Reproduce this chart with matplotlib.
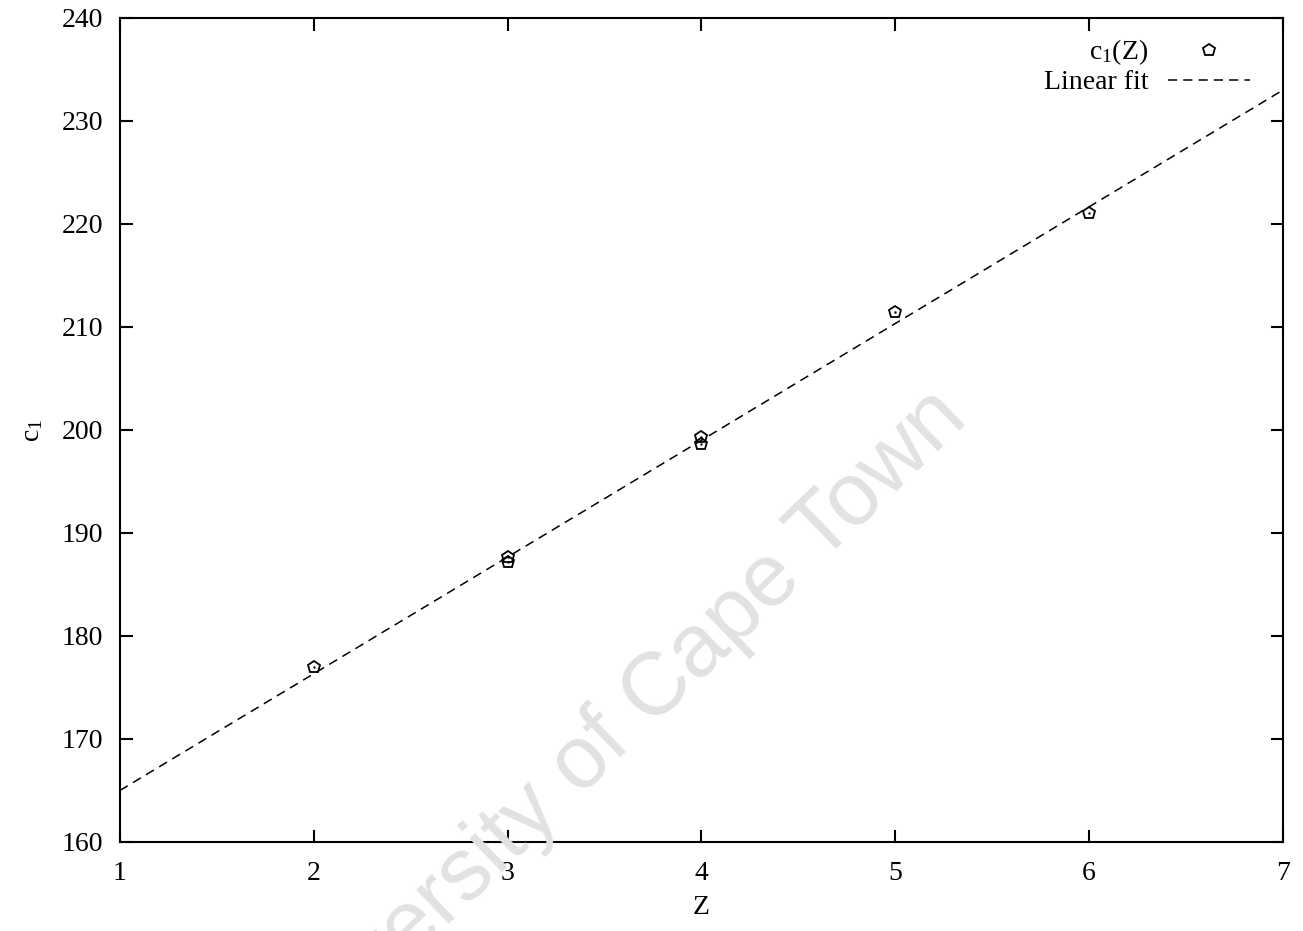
import numpy as np
import matplotlib
matplotlib.use('Agg')
import matplotlib.pyplot as plt

# Data
z_vals = [2, 3, 3, 4, 4, 5, 6]
c1_vals = [177.0, 187.7, 187.2, 199.3, 198.6, 211.5, 221.1]

# linear fit, end points at the axis edges
fit_z = [1, 7]
fit_c1 = [165.0, 233.0]

x_ticks = [1, 2, 3, 4, 5, 6, 7]
y_ticks = [160, 170, 180, 190, 200, 210, 220, 230, 240]

plt.rcParams['font.family'] = ['Liberation Serif', 'DejaVu Serif']
plt.rcParams['mathtext.fontset'] = 'custom'
plt.rcParams['mathtext.rm'] = 'Liberation Serif'
plt.rcParams['mathtext.it'] = 'Liberation Serif:italic'

fig = plt.figure(figsize=(13.03, 9.31), dpi=100)
ax = fig.add_axes([0.092, 0.0956, 0.8926, 0.8851])

# watermark
fig.text(0.7444, 0.5478, 'University of Cape Town', family='Liberation Sans',
         fontsize=64, color='#e2e2e2', rotation=44, rotation_mode='anchor',
         ha='right', va='baseline', zorder=0)
ax.set_facecolor('none')

ax.plot(fit_z, fit_c1, color='black', lw=1.1, dashes=(6, 4), label='Linear fit', zorder=2)
ax.plot(z_vals, c1_vals, linestyle='none', marker='p', markersize=9, markerfacecolor='none',
        markeredgecolor='black', markeredgewidth=1.3, label=r'c$_1$(Z)', zorder=3)
ax.plot(z_vals, c1_vals, linestyle='none', marker='.', markersize=1.5, color='black', zorder=3)

ax.set_xlim(1, 7)
ax.set_ylim(160, 240)
ax.set_xticks(x_ticks)
ax.set_yticks(y_ticks)
ax.tick_params(direction='in', length=9, width=1.5, labelsize=20, top=True, right=True)
ax.tick_params(axis='x', pad=14)
ax.tick_params(axis='y', pad=12)
for s in ax.spines.values():
    s.set_linewidth(1.5)

ax.set_xlabel('Z', fontsize=20, labelpad=6)
ax.set_ylabel(r'c$_1$', fontsize=20, labelpad=12)

handles, labels = ax.get_legend_handles_labels()
ax.legend(handles[::-1], labels[::-1], loc='upper right', frameon=False, markerfirst=False,
          fontsize=20, handlelength=2.95, handletextpad=0.7, labelspacing=0.1,
          borderaxespad=0.3, bbox_to_anchor=(0.988, 1.0))

fig.savefig('out.png', dpi=100)
